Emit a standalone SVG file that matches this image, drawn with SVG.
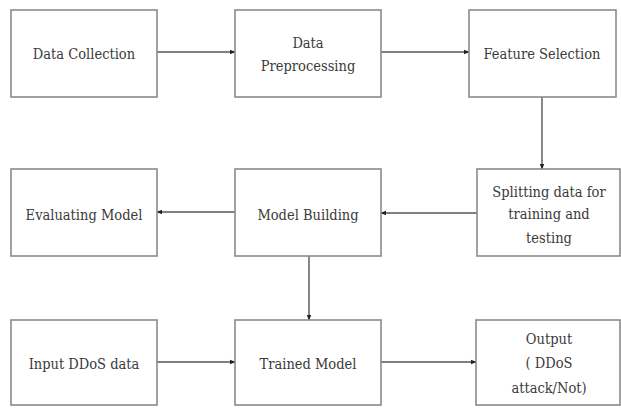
<svg xmlns="http://www.w3.org/2000/svg" width="621" height="409" viewBox="0 0 621 409">
  <style>
    .box { fill: #ffffff; stroke: #8a8a8a; stroke-width: 1.6; }
    .edge { stroke: #555555; stroke-width: 1.4; fill: none; marker-end: url(#arrow); }
    .lbl { font-family: 'DejaVu Serif Condensed', 'DejaVu Serif', 'Liberation Serif', serif; font-stretch: condensed; font-size: 14.5px; fill: #3a3a3a; text-anchor: middle; }
  </style>
  <defs>
    <marker id="arrow" viewBox="0 0 10 10" refX="9" refY="5" markerWidth="6" markerHeight="6" orient="auto" markerUnits="userSpaceOnUse">
      <path d="M0,1 L10,5 L0,9 z" fill="#222222"/>
    </marker>
  </defs>
  <rect width="621" height="409" fill="#ffffff"/>

  <g id="connectors">
    <line class="edge" x1="157" y1="52" x2="235" y2="52"/>
    <line class="edge" x1="381" y1="52" x2="469" y2="52"/>
    <line class="edge" x1="542" y1="97" x2="542" y2="169"/>
    <line class="edge" x1="477" y1="213" x2="381" y2="213"/>
    <line class="edge" x1="235" y1="212" x2="157" y2="212"/>
    <line class="edge" x1="309" y1="256" x2="309" y2="320"/>
    <line class="edge" x1="157" y1="362" x2="235" y2="362"/>
    <line class="edge" x1="381" y1="362" x2="476" y2="362"/>
  </g>

  <g id="data-collection">
    <rect class="box" x="11" y="10" width="146" height="87"/>
    <text class="lbl" x="84" y="59">Data Collection</text>
  </g>
  <g id="data-preprocessing">
    <rect class="box" x="235" y="10" width="146" height="87"/>
    <text class="lbl" x="308" y="48">Data</text>
    <text class="lbl" x="308" y="71">Preprocessing</text>
  </g>
  <g id="feature-selection">
    <rect class="box" x="469" y="10" width="147" height="87"/>
    <text class="lbl" x="542" y="59">Feature Selection</text>
  </g>

  <g id="evaluating-model">
    <rect class="box" x="11" y="169" width="146" height="87"/>
    <text class="lbl" x="84" y="220">Evaluating Model</text>
  </g>
  <g id="model-building">
    <rect class="box" x="235" y="169" width="146" height="87"/>
    <text class="lbl" x="308" y="220">Model Building</text>
  </g>
  <g id="splitting-data">
    <rect class="box" x="477" y="169" width="143" height="87"/>
    <text class="lbl" x="549" y="197">Splitting data for</text>
    <text class="lbl" x="549" y="219">training and</text>
    <text class="lbl" x="549" y="243">testing</text>
  </g>

  <g id="input-ddos-data">
    <rect class="box" x="11" y="320" width="146" height="85"/>
    <text class="lbl" x="84" y="369">Input DDoS data</text>
  </g>
  <g id="trained-model">
    <rect class="box" x="235" y="320" width="146" height="85"/>
    <text class="lbl" x="308" y="369">Trained Model</text>
  </g>
  <g id="output">
    <rect class="box" x="476" y="320" width="144" height="85"/>
    <text class="lbl" x="549" y="344">Output</text>
    <text class="lbl" x="549" y="368">( DDoS</text>
    <text class="lbl" x="549" y="393">attack/Not)</text>
  </g>
</svg>
